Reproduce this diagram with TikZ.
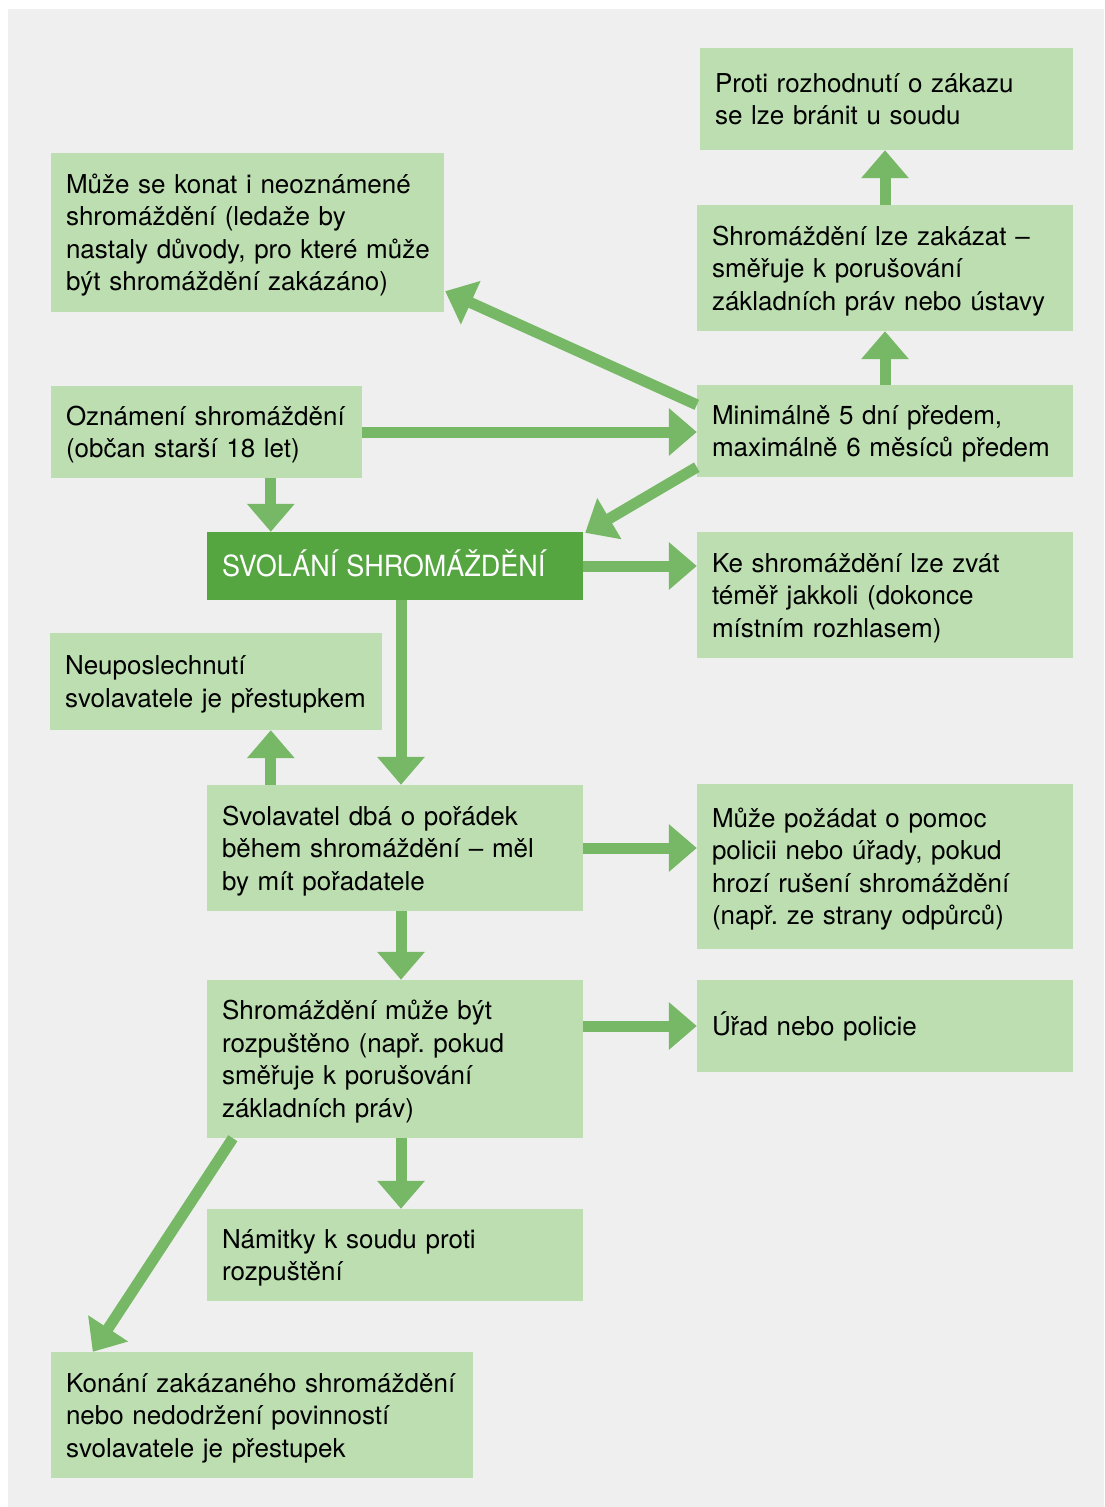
\documentclass[tikz,border=0pt]{standalone}
\usepackage{fontspec}
\setmainfont{TeX Gyre Heros}
\usetikzlibrary{arrows.meta,calc}
\definecolor{pagegray}{HTML}{EFEFEF}
\definecolor{boxgreen}{HTML}{BCDEB1}
\definecolor{arrowgreen}{HTML}{77B866}
\definecolor{headgreen}{HTML}{55A540}
\frenchspacing
\hbadness=10000 \hfuzz=20pt
\begin{document}
\begin{tikzpicture}[x=1pt,y=-1pt,
  box/.style n args={2}{fill=boxgreen, draw=none, inner xsep=15pt, inner ysep=0pt,
    minimum height=#2pt, text width=#1pt, align=left, anchor=center,
    font=\fontsize{26}{32.5}\selectfont,
    execute at begin node={\leavevmode\rule{0pt}{27pt}},
    execute at end node={\rule[-8pt]{0pt}{8pt}}},
  mainbox/.style={fill=headgreen, draw=none, inner xsep=15pt, inner ysep=0pt,
    minimum width=376pt, minimum height=68pt, text=white, anchor=center,
    font=\fontsize{27}{32}\selectfont, text width=346pt, align=left,
    execute at begin node={\leavevmode\rule{0pt}{28pt}},
    execute at end node={\rule[-7pt]{0pt}{7pt}}},
  arr/.style={draw=arrowgreen, line width=11pt,
    -{Triangle[length=28pt,width=46pt]}, color=arrowgreen}]
\useasboundingbox (0,0) rectangle (1104,1507);
\fill[white] (0,0) rectangle (1104,1507);
\fill[pagegray] (8,9) rectangle (1104,1507);

% boxes
\node[box={343}{102}] (b1) at (886.5,99) {Proti rozhodnutí o zákazu\\se lze bránit u soudu};
\node[box={363}{159}] (b2) at (247.5,232.5) {Může se konat i neoznámené\\shromáždění (ledaže by\\\mbox{nastaly důvody, pro které může}\\být shromáždění zakázáno)};
\node[box={346}{126}] (b3) at (885,268) {Shromáždění lze zakázat –\\směřuje k porušování\\základních práv nebo ústavy};
\node[box={281}{92}] (b4) at (206.5,432) {Oznámení shromáždění\\(občan starší 18 let)};
\node[box={346}{92}] (b5) at (885,431) {Minimálně 5 dní předem,\\maximálně 6 měsíců předem};
\node[mainbox] (b6) at (395,566) {\scalebox{1}[1.08]{SVOLÁNÍ SHROMÁŽDĚNÍ}};
\node[box={346}{126}] (b7) at (885,595) {Ke shromáždění lze zvát\\téměř jakkoli (dokonce\\místním rozhlasem)};
\node[box={302}{97}] (b8) at (216,681.5) {Neuposlechnutí\\svolavatele je přestupkem};
\node[box={346}{126}] (b9) at (395,848) {Svolavatel dbá o pořádek\\během shromáždění – měl\\by mít pořadatele};
\node[box={346}{165}] (b10) at (885,866.5) {Může požádat o pomoc\\policii nebo úřady, pokud\\hrozí rušení shromáždění\\(např. ze strany odpůrců)};
\node[box={346}{158}] (b11) at (395,1059) {Shromáždění může být\\rozpuštěno (např. pokud\\směřuje k porušování\\základních práv)};
\node[box={346}{92}] (b12) at (885,1026) {Úřad nebo policie};
\node[box={346}{92}] (b13) at (395,1255) {Námitky k soudu proti\\rozpuštění};
\node[box={392}{126}] (b14) at (262,1415) {Konání zakázaného shromáždění\\nebo nedodržení povinností\\svolavatele je přestupek};

% connectors
\draw[arr] (b4.east) -- (b4.east -| b5.west);
\draw[arr] ([xshift=220pt]b4.south west) -- ([xshift=220pt]b4.south west |- b6.north);
\draw[arr] (b5.north) -- (b5.north |- b3.south);
\draw[arr] (b3.north) -- (b3.north |- b1.south);
\draw[arr] ($(b5.north west)+(0,20)$) -- ($(b2.south east)+(1,-21)$);
\draw[arr] ($(b5.south west)+(0,-10)$) -- ($(b6.north east)+(2,1)$);
\draw[arr] (b6.east) -- (b6.east -| b7.west);
\draw[arr] ([xshift=6pt]b6.south) -- ([xshift=6pt]b6.south |- b9.north);
\draw[arr] ([xshift=64pt]b9.north west) -- ([xshift=64pt]b9.north west |- b8.south);
\draw[arr] (b9.east) -- (b9.east -| b10.west);
\draw[arr] ([xshift=6pt]b9.south) -- ([xshift=6pt]b9.south |- b11.north);
\draw[arr] (b12.west -| b11.east) -- (b12.west);
\draw[arr] ([xshift=6pt]b11.south) -- ([xshift=6pt]b11.south |- b13.north);
\draw[arr] ($(b11.south west)+(26,0)$) -- ($(b14.north west)+(42,0)$);
\end{tikzpicture}
\end{document}
